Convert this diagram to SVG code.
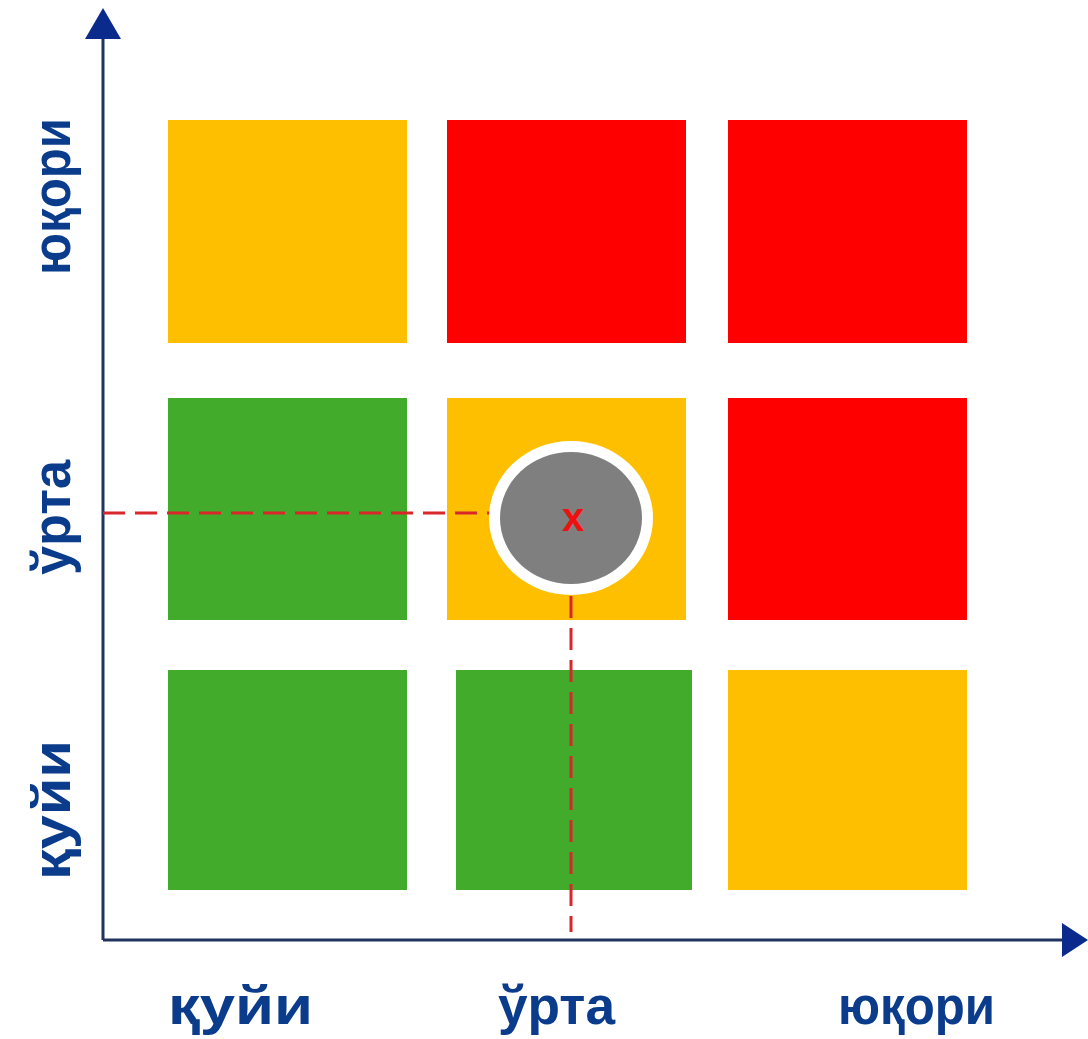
<svg xmlns="http://www.w3.org/2000/svg" width="1088" height="1039" viewBox="0 0 1088 1039">
<style>
.y{fill:#FDBF00}.r{fill:#FF0000}.g{fill:#42AB2B}
.lbl{font-family:"Liberation Sans",Arial,sans-serif;font-weight:bold;font-size:54px;fill:#0B3C8C}
.axis{stroke:#23335F;stroke-width:3;fill:none}
.dash{stroke:#D9262A;stroke-width:3;stroke-dasharray:22 10;fill:none}
</style>
<rect width="1088" height="1039" fill="#fff"/>
<g id="cells">
<rect id="c11" class="y" x="168" y="120" width="239" height="223"/>
<rect id="c12" class="r" x="447" y="120" width="239" height="223"/>
<rect id="c13" class="r" x="728" y="120" width="239" height="223"/>
<rect id="c21" class="g" x="168" y="398" width="239" height="222"/>
<rect id="c22" class="y" x="447" y="398" width="239" height="222"/>
<rect id="c23" class="r" x="728" y="398" width="239" height="222"/>
<rect id="c31" class="g" x="168" y="670" width="239" height="220"/>
<rect id="c32" class="g" x="456" y="670" width="236" height="220"/>
<rect id="c33" class="y" x="728" y="670" width="239" height="220"/>
</g>
<g id="connectors">
<line class="axis" x1="103" y1="38" x2="103" y2="940"/>
<line class="axis" x1="103" y1="940" x2="1062" y2="940"/>
<polygon points="103,8 85,39 121,39" fill="#0A2A8C"/>
<polygon points="1088,940 1062,923 1062,957" fill="#0A2A8C"/>
<line class="dash" x1="103" y1="513" x2="490" y2="513"/>
<line class="dash" x1="571" y1="596" x2="571" y2="932"/>
</g>
<g id="point">
<ellipse cx="571" cy="518" rx="82" ry="77" fill="#fff"/>
<ellipse cx="571" cy="518" rx="71" ry="66" fill="#7F7F7F"/>
<text x="573" y="531" text-anchor="middle" font-family="Liberation Sans,Arial,sans-serif" font-weight="bold" font-size="40" fill="#F01010">x</text>
</g>
<g id="labels">
<text class="lbl" x="168" y="1024" textLength="145" lengthAdjust="spacingAndGlyphs">қуйи</text>
<text class="lbl" x="498" y="1024" textLength="117" lengthAdjust="spacingAndGlyphs">ўрта</text>
<text class="lbl" x="838" y="1024" textLength="157" lengthAdjust="spacingAndGlyphs">юқори</text>
<text class="lbl" transform="translate(70,275) rotate(-90)" textLength="157" lengthAdjust="spacingAndGlyphs">юқори</text>
<text class="lbl" transform="translate(70,575) rotate(-90)" textLength="115" lengthAdjust="spacingAndGlyphs">ўрта</text>
<text class="lbl" transform="translate(70,880) rotate(-90)" textLength="140" lengthAdjust="spacingAndGlyphs">қуйи</text>
</g>
</svg>
